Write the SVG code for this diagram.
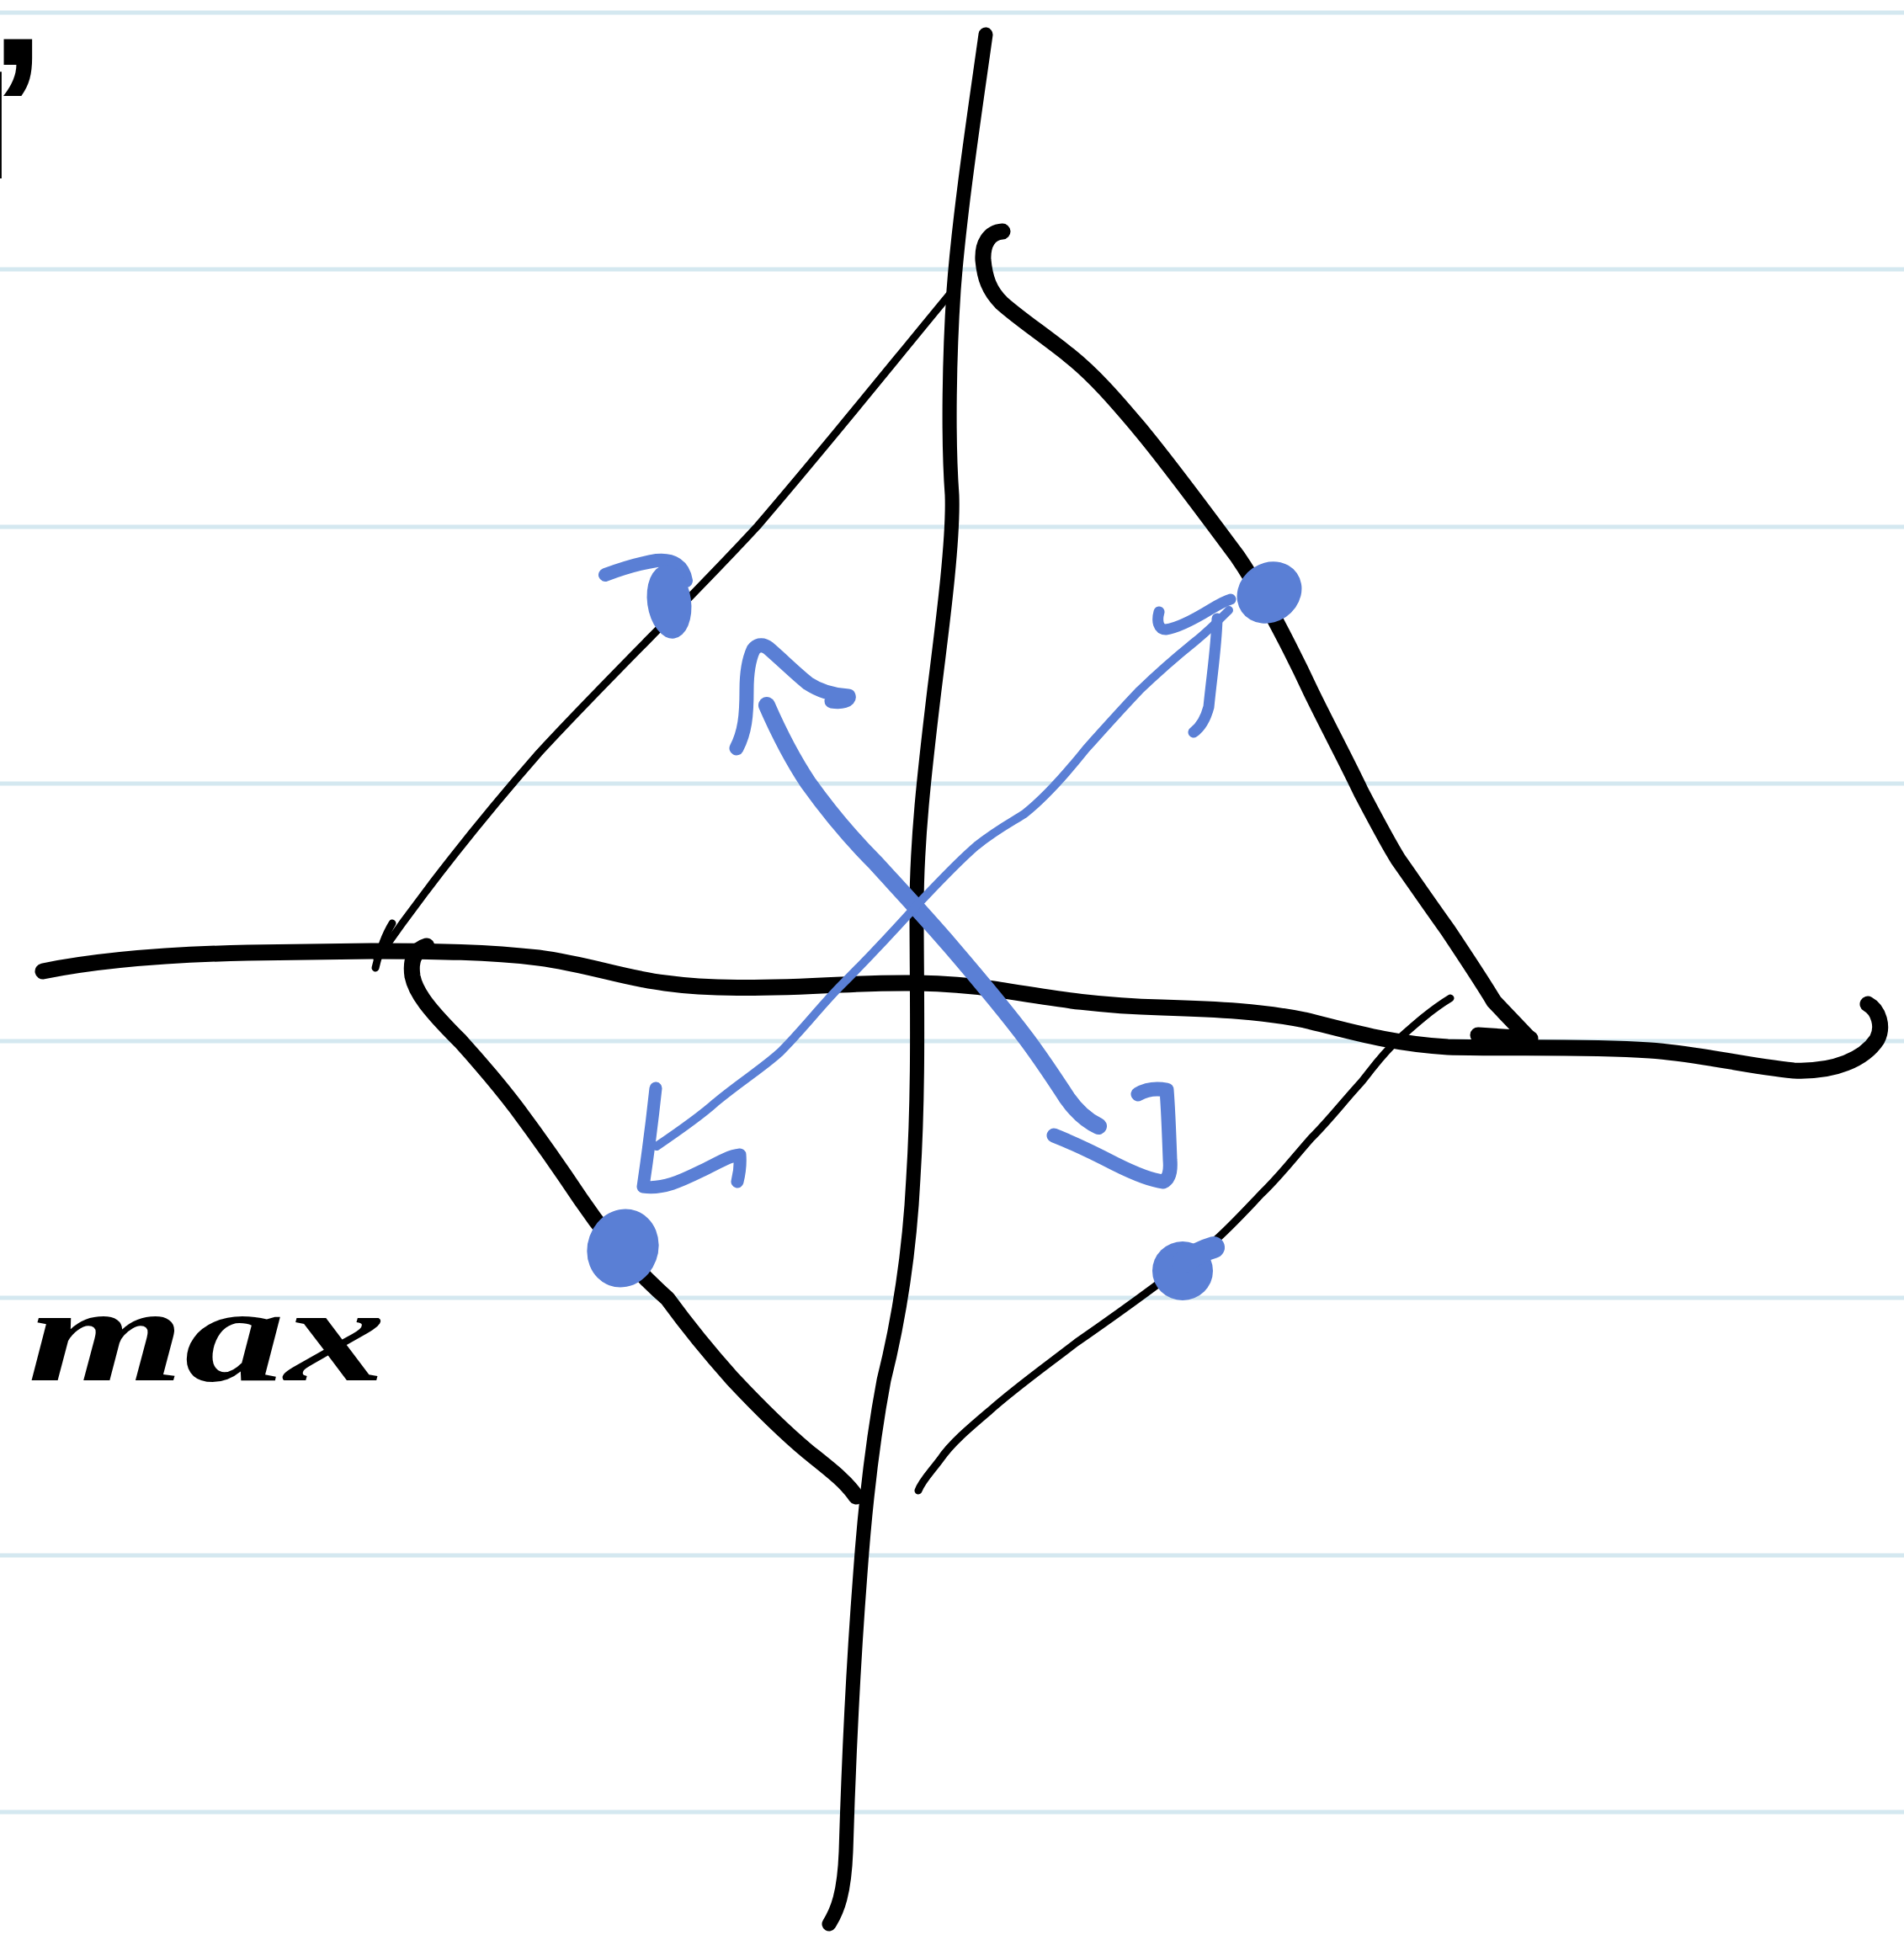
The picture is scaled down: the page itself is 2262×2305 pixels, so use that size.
<svg xmlns="http://www.w3.org/2000/svg" width="2262" height="2305" viewBox="0 0 2262 2305">
<style>
.rule{stroke:#d4e8f0;stroke-width:5;fill:none}
.ink{stroke:#000;fill:none;stroke-linecap:round;stroke-linejoin:round}
.thick{stroke-width:19}
.axis{stroke-width:17}
.thin{stroke-width:9}
.blue{stroke:#5a7fd5;fill:none;stroke-linecap:round;stroke-linejoin:round}
.bdot{fill:#5a7fd5}
.hand{font-family:"Liberation Serif",serif;font-style:italic;font-weight:bold;fill:#000}
.mark{font-family:"Liberation Sans",sans-serif;font-weight:bold;fill:#000}
</style>
<rect width="2262" height="2305" fill="#fff"/>
<g id="rules">
<line class="rule" x1="0" y1="15" x2="2262" y2="15"/>
<line class="rule" x1="0" y1="320" x2="2262" y2="320"/>
<line class="rule" x1="0" y1="626" x2="2262" y2="626"/>
<line class="rule" x1="0" y1="931" x2="2262" y2="931"/>
<line class="rule" x1="0" y1="1237" x2="2262" y2="1237"/>
<line class="rule" x1="0" y1="1542" x2="2262" y2="1542"/>
<line class="rule" x1="0" y1="1848" x2="2262" y2="1848"/>
<line class="rule" x1="0" y1="2153" x2="2262" y2="2153"/>
</g>
<g id="connectors">
<path id="axis-v" class="ink axis" d="M1171,41 C1160,120 1140,250 1133,345 C1128,420 1126,520 1131,588 C1133,640 1120,740 1110,820 C1098,920 1089,1000 1089,1080 C1089,1180 1092,1290 1085,1400 C1080,1500 1065,1580 1050,1640 C1035,1720 1027,1800 1022,1870 C1012,2000 1008,2100 1005,2200 C1003,2250 995,2270 985,2286"/>
<path id="axis-h" class="ink thick" d="M51,1154 C120,1140 200,1134 294,1132 L441,1130 C520,1130 580,1131 640,1138 C700,1146 740,1162 790,1168 C840,1175 900,1175 999,1170 C1060,1167 1120,1166 1180,1175 C1250,1186 1300,1195 1380,1197 C1450,1199 1500,1202 1550,1212 C1600,1224 1650,1240 1720,1244 C1800,1246 1880,1243 1960,1248 C2020,1252 2070,1266 2131,1272 C2180,1274 2215,1258 2230,1235 C2238,1220 2232,1200 2219,1193"/>
<path id="edge-ul" class="ink thin" d="M1132,345 C1060,432 990,520 900,625 C820,712 720,808 640,895 C570,975 510,1050 448,1139"/>
<path id="tick-ul" class="ink thin" d="M466,1097 C458,1110 452,1125 446,1150"/>
<path id="edge-ur" class="ink thick" d="M1191,275 C1175,276 1167,290 1168,309 C1170,330 1175,345 1190,360 C1210,378 1240,398 1270,422 C1300,446 1325,475 1352,507 C1380,540 1410,580 1470,661 C1490,690 1500,710 1514,735 C1530,765 1545,795 1558,823 C1580,868 1600,905 1617,941 C1635,975 1648,1000 1661,1021 C1680,1048 1695,1070 1720,1105 C1740,1135 1760,1165 1775,1190 L1815,1232"/>
<path id="edge-ur-end" class="ink thick" d="M1756,1230 L1818,1234"/>
<path id="edge-ll" class="ink thick" d="M507,1124 C493,1128 487,1140 490,1160 C494,1180 510,1200 547,1237 C575,1268 595,1292 614,1317 C640,1352 660,1380 690,1425 C715,1462 750,1505 793,1543 C820,1580 845,1610 870,1638 C900,1670 930,1700 960,1725 C985,1745 1005,1760 1017,1778"/>
<path id="edge-lr" class="ink thin" d="M1723,1186 C1700,1200 1680,1218 1661,1235 C1640,1255 1630,1270 1617,1286 C1595,1310 1580,1330 1558,1352 C1535,1378 1520,1398 1499,1418 C1480,1438 1460,1460 1440,1477 C1420,1495 1400,1508 1382,1521 C1350,1545 1315,1570 1279,1595 C1240,1625 1205,1650 1176,1676 C1150,1698 1130,1715 1117,1734 C1105,1750 1095,1760 1091,1771"/>
<path id="arrow-thick" class="blue" stroke-width="20" d="M911,838 C925,870 940,900 960,930 C985,965 1010,995 1040,1025 C1070,1058 1100,1090 1130,1125 C1160,1160 1190,1195 1220,1235 C1240,1262 1255,1285 1268,1305 C1280,1322 1292,1332 1305,1338"/>
<path id="arrow-thick-head1" class="blue" stroke-width="17" d="M875,889 C885,870 887,850 887,820 C887,800 889,785 895,772 C900,765 908,765 915,772 C930,785 945,800 960,812 C975,822 992,826 1008,827 C1010,832 1000,835 988,833"/>
<path id="arrow-thick-head2" class="blue" stroke-width="17" d="M1252,1349 C1275,1358 1300,1370 1325,1383 C1345,1393 1365,1402 1382,1404 C1390,1400 1391,1390 1390,1378 C1389,1350 1388,1320 1386,1295 C1375,1293 1362,1294 1352,1300"/>
<path id="arrow-thin" class="blue" stroke-width="10" d="M780,1362 C805,1345 830,1328 850,1310 C880,1285 905,1270 927,1250 C955,1222 975,1195 1000,1170 C1030,1140 1060,1108 1088,1077 C1118,1045 1140,1022 1160,1005 C1185,985 1205,975 1217,967 C1245,945 1270,915 1290,890 C1315,862 1335,840 1354,820 C1380,795 1400,778 1420,762 C1435,750 1445,740 1460,725"/>
<path id="arrow-thin-head1" class="blue" stroke-width="15" d="M779,1293 C775,1330 770,1370 764,1410 C790,1414 815,1400 840,1388 C855,1380 868,1373 879,1372 C880,1385 878,1396 876,1404"/>
<path id="arrow-thin-head2" class="blue" stroke-width="13" d="M1377,727 C1374,738 1376,748 1385,748 C1400,746 1420,735 1438,724 C1448,718 1455,714 1462,712 M1446,735 C1445,770 1440,800 1436,840 C1432,855 1425,865 1418,870"/>
</g>
<g id="dots">
<g id="dot-ul">
<path class="blue" stroke-width="16" d="M719,683 C735,677 755,670 780,666 C800,664 812,672 815,690"/>
<ellipse class="bdot" cx="795" cy="715" rx="26" ry="44" transform="rotate(-8 795 715)"/>
</g>
<g id="dot-ur">
<ellipse class="bdot" cx="1508" cy="704" rx="40" ry="35" transform="rotate(-35 1508 704)"/>
</g>
<g id="dot-ll">
<ellipse class="bdot" cx="740" cy="1483" rx="42" ry="47" transform="rotate(20 740 1483)"/>
</g>
<g id="dot-lr">
<ellipse class="bdot" cx="1405" cy="1510" rx="36" ry="35"/>
<path class="blue" stroke-width="26" d="M1405,1500 C1420,1490 1435,1484 1442,1482"/>
</g>
</g>
<g id="labels">
<text class="hand" x="33" y="1640" font-size="160" textLength="425" lengthAdjust="spacingAndGlyphs">max</text>
<text class="mark" x="-48" y="212" font-size="240" letter-spacing="-31">ı’</text>
</g>
</svg>
